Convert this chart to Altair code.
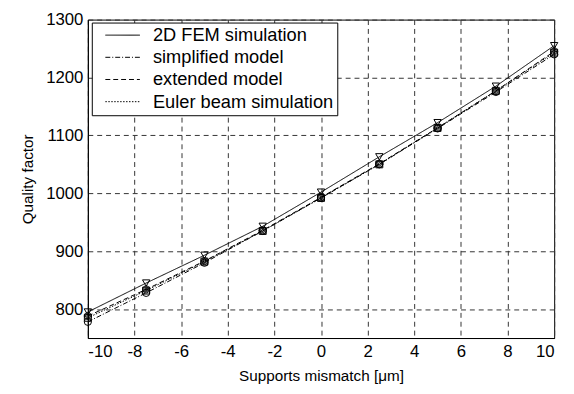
import altair as alt
import pandas as pd

x_vals = [-10, -7.5, -5, -2.5, 0, 2.5, 5, 7.5, 10]
fem = [795, 845, 893, 943, 1002, 1063, 1122, 1185, 1255]
simplified = [778, 828, 880, 935, 992, 1050, 1112, 1175, 1240]
extended = [788, 834, 883, 936, 993, 1051, 1113, 1177, 1245]
euler = [785, 832, 882, 935, 992, 1050, 1113, 1177, 1243]

series_names = ["2D FEM simulation", "simplified model", "extended model", "Euler beam simulation"]
series_vals = [fem, simplified, extended, euler]
marker_keys = [n + " " for n in series_names]

rows = []
for name, key, vals in zip(series_names, marker_keys, series_vals):
    for xv, yv in zip(x_vals, vals):
        rows.append({"x": xv, "q": yv, "series": name, "series2": key})
df = pd.DataFrame(rows)

FONT = "Liberation Sans"
LFS = 18.5

# solid-looking dot made of concentric rings (stroked only)
DOT = ("M-1,0A1,1,0,1,0,1,0A1,1,0,1,0,-1,0Z"
       "M-0.66,0A0.66,0.66,0,1,0,0.66,0A0.66,0.66,0,1,0,-0.66,0Z"
       "M-0.33,0A0.33,0.33,0,1,0,0.33,0A0.33,0.33,0,1,0,-0.33,0Z")

xenc = alt.X("x:Q", scale=alt.Scale(domain=[-10, 10], nice=False),
             axis=alt.Axis(values=[-10, -8, -6, -4, -2, 0, 2, 4, 6, 8, 10],
                           labelExpr="datum.value + ''",
                           title="Supports mismatch [\u03bcm]"))
yenc = alt.Y("q:Q", scale=alt.Scale(domain=[750, 1300], nice=False, zero=False),
             axis=alt.Axis(values=[800, 900, 1000, 1100, 1200, 1300],
                           labelExpr="datum.value + ''",
                           title="Quality factor"))

line_legend = alt.Legend(
    title=None, orient="none", legendX=4, legendY=3, padding=3.5,
    symbolType="M-3.5,0H3.5", symbolSize=100, symbolStrokeColor="black",
    symbolStrokeWidth=1, symbolOffset=18.5, labelOffset=21.5, labelLimit=400,
    labelFontSize=LFS, labelFont=FONT, labelColor="black", rowPadding=3.5,
    fillColor="white", strokeColor="black", zindex=1,
)

lines = alt.Chart(df).mark_line(color="black", strokeWidth=1).encode(
    x=xenc, y=yenc,
    strokeDash=alt.StrokeDash(
        "series:N",
        scale=alt.Scale(domain=series_names,
                        range=[[1, 0], [5, 2, 1, 2], [5, 3], [1.5, 1.5]]),
        legend=line_legend,
    ),
)

marker_legend = alt.Legend(
    title=None, orient="none", legendX=4, legendY=3, padding=3.5,
    symbolSize=45, symbolStrokeWidth=1, symbolStrokeColor="black",
    symbolFillColor="white", labelLimit=400,
    symbolOffset=20, labelOffset=26, labelFontSize=LFS, labelFont=FONT,
    labelOpacity=0, rowPadding=3.5, zindex=2,
)

points = alt.Chart(df).mark_point(color="black", strokeWidth=1, opacity=1).encode(
    x=xenc, y=yenc,
    shape=alt.Shape(
        "series2:N",
        scale=alt.Scale(domain=marker_keys,
                        range=["triangle-down", "circle", DOT, "square"]),
        legend=marker_legend,
    ),
    size=alt.Size(
        "series2:N",
        scale=alt.Scale(domain=marker_keys, range=[55, 50, 22, 35]),
        legend=None,
    ),
)

chart = alt.layer(lines, points).properties(
    width=473, height=323,
    autosize=alt.AutoSizeParams(type="none"),
    padding={"left": 81, "top": 9, "right": 12, "bottom": 54},
).configure_view(
    stroke="black", strokeWidth=1
).configure_axis(
    grid=True, gridColor="#333333", gridDash=[5, 4], gridWidth=1, gridOpacity=1,
    domainColor="black", domainWidth=1, ticks=False,
    labelFont=FONT, labelFontSize=17, labelColor="black",
    titleFont=FONT, titleFontSize=15.5, titleColor="black", titleFontWeight="normal",
).configure_axisX(
    labelPadding=6, titlePadding=9,
).configure_axisY(
    labelPadding=5, titlePadding=10,
)

chart.save("out.html", embed_options={"renderer": "svg", "actions": False})
